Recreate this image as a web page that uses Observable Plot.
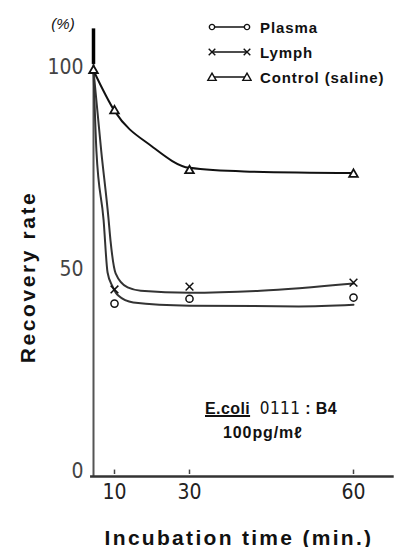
<!DOCTYPE html>
<html><head><meta charset="utf-8">
<script src="https://cdn.jsdelivr.net/npm/d3@7"></script>
<script src="https://cdn.jsdelivr.net/npm/@observablehq/plot@0.6"></script>
<style>
body{margin:0;background:#fff;}
#wrap{position:relative;width:396px;height:547px;font-family:"Liberation Sans",Arial,sans-serif;overflow:hidden;}
.ov{position:absolute;white-space:nowrap;color:#111;line-height:1;}
.c{transform:translate(-50%,-50%);}
.lg{position:absolute;left:205px;height:16px;display:flex;align-items:center;font-weight:bold;font-size:15px;letter-spacing:0.9px;color:#111;transform:translateY(-50%);}
.lg svg{margin-right:8px;}
</style></head><body><div id="wrap"></div>
<script>
// Measured markers
const pointTimes = [10, 30, 60];
const plasma = [42.3, 43.5, 43.8];
const lymph = [45.8, 46.5, 47.5];
const controlTimes = [0, 10, 30, 60];
const control = [100, 90, 75.2, 74.3];
// Fitted curves
const plasmaCurveT = [0, 1.4, 4.8, 6.7, 9.0, 11.0, 15.0, 30, 50, 60];
const plasmaCurveV = [100, 80, 63, 50, 46.6, 44.3, 42.6, 41.8, 41.6, 42.0];
const lymphCurveT = [0, 3.7, 7.1, 8.1, 10.3, 13.5, 17, 30, 43, 60];
const lymphCurveV = [100, 80, 63.6, 57.9, 49.8, 46.3, 45.5, 45.0, 45.5, 47.3];
const controlCurveT = [0, 10, 20, 30, 40, 60];
const controlCurveV = [100, 90, 81.2, 75.9, 75.0, 74.6];
const xTicks = [10, 30, 60];
const yTicks = [0, 50, 100];
const seriesNames = ["Plasma", "Lymph", "Control (saline)"];

// The original time axis is not evenly spaced: piecewise warp of minutes
const warp = d3.scaleLinear().domain([0, 10, 30, 60, 67]).range([0, 21, 96, 260, 298]);
const zip = (t, v) => t.map((d, i) => ({t: d, v: v[i]}));
const condensed = '"Liberation Sans Narrow","DejaVu Sans Condensed","Liberation Sans",sans-serif';
const X = d => warp(d.t);

const plot = Plot.plot({
  width: 396, height: 547,
  marginLeft: 93, marginRight: 5, marginTop: 30, marginBottom: 73,
  x: {domain: [0, 298]},
  y: {domain: [0, 110], range: [474, 29.6]},
  style: {background: "white", overflow: "visible"},
  marks: [
    Plot.axisY({ticks: yTicks, tickSize: 0, tickPadding: 10, fontSize: 21, fontFamily: condensed, color: "#444", label: null, dy: -3}),
    Plot.axisX({ticks: xTicks.map(warp), tickFormat: d => Math.round(warp.invert(d)), tickSize: 0, tickPadding: 10, fontSize: 21, fontFamily: condensed, color: "#222", label: null}),
    Plot.ruleX(xTicks, {x: d => warp(d), y1: 0, y2: 1.1, stroke: "#444", strokeWidth: 1.5}),
    Plot.ruleX([0], {x: d => warp(d), y1: -0.5, y2: 110, stroke: "#555", strokeWidth: 2}),
    Plot.ruleX([0], {x: d => warp(d), y1: 101.5, y2: 110.3, stroke: "#000", strokeWidth: 3.5}),
    Plot.ruleY([0], {x1: warp(-1.4), x2: warp(67.5), dy: 2, stroke: "#333", strokeWidth: 2.5}),
    Plot.line(zip(plasmaCurveT, plasmaCurveV), {x: X, y: "v", curve: "monotone-x", stroke: "#333", strokeWidth: 2}),
    Plot.line(zip(lymphCurveT, lymphCurveV), {x: X, y: "v", curve: "monotone-x", stroke: "#333", strokeWidth: 2}),
    Plot.line(zip(controlCurveT, controlCurveV), {x: X, y: "v", curve: "monotone-x", stroke: "#111", strokeWidth: 2}),
    Plot.dot(zip(pointTimes, plasma), {x: X, y: "v", symbol: "circle", r: 3.6, stroke: "#111", fill: "white", strokeWidth: 1.5}),
    Plot.dot(zip(pointTimes, lymph), {x: X, y: "v", symbol: "times", r: 3.6, stroke: "#111", strokeWidth: 1.5}),
    Plot.dot(zip(controlTimes, control), {x: X, y: "v", symbol: "triangle", r: 3.2, stroke: "#111", fill: "white", strokeWidth: 1.8})
  ]
});
const wrap = document.getElementById("wrap");
wrap.appendChild(plot);

function ov(html, style, cls) {
  const d = document.createElement("div");
  d.className = "ov " + (cls || "");
  d.innerHTML = html;
  d.setAttribute("style", style);
  wrap.appendChild(d);
}
ov("(%)", "left:63px;top:23px;font-size:15px;font-style:italic;", "c");
ov("Recovery rate", "left:27px;top:277px;font-size:21px;font-weight:bold;letter-spacing:2.6px;transform:translate(-50%,-50%) rotate(-90deg);");
ov("Incubation time&nbsp;(min.)", "left:239px;top:537px;font-size:21px;font-weight:bold;letter-spacing:2.3px;", "c");
ov('<span style="font-weight:bold;text-decoration:underline;text-decoration-thickness:2px;">E.coli</span>&nbsp; <span style="font-family:' + condensed.replace(/"/g, "'") + ';font-size:17px;">0111</span>&nbsp;<b>:&nbsp;B4</b>', "left:205px;top:400px;font-size:16px;letter-spacing:0.4px;");
ov('<b>100pg/mℓ</b>', "left:223px;top:425px;font-size:16px;letter-spacing:0.9px;");

const symbols = ["circle", "times", "triangle"];
const legendY = [27, 52, 77];
seriesNames.forEach((name, i) => {
  const row = document.createElement("div");
  row.className = "lg";
  row.style.top = legendY[i] + "px";
  const s = d3.create("svg").attr("width", 47).attr("height", 14);
  s.append("line").attr("x1", 7).attr("x2", 42).attr("y1", 7).attr("y2", 7).attr("stroke", "#111").attr("stroke-width", 1.5);
  const type = symbols[i] === "circle" ? d3.symbolCircle : symbols[i] === "times" ? d3.symbolTimes : d3.symbolTriangle;
  const sym = d3.symbol().type(type).size(symbols[i] === "circle" ? 22 : 30);
  [7, 42].forEach(cx => {
    s.append("path").attr("d", sym()).attr("transform", `translate(${cx},${symbols[i] === "triangle" ? 8 : 7})`)
      .attr("fill", symbols[i] === "times" ? "none" : "white").attr("stroke", "#111").attr("stroke-width", 1.4);
  });
  row.appendChild(s.node());
  const t = document.createElement("span");
  t.textContent = name;
  row.appendChild(t);
  wrap.appendChild(row);
});
</script></body></html>
